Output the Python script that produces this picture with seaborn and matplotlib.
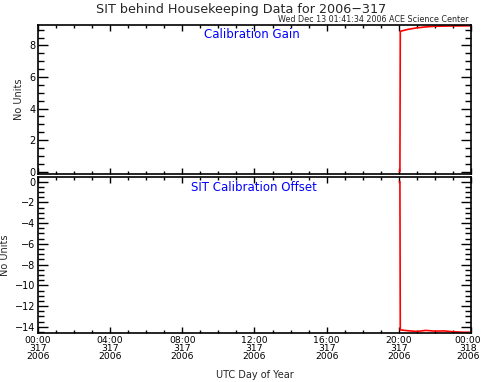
import matplotlib
matplotlib.use("Agg")
import matplotlib.pyplot as plt
import matplotlib.transforms as mtransforms
from matplotlib.ticker import MultipleLocator
import seaborn as sns
import pandas as pd

# Data (hours since 00:00 UTC day 317)
gain_hours = [20.03, 20.06, 20.08, 20.5, 21.0, 21.5, 22.0, 23.0, 24.0]
gain_values = [0.0, 0.0, 8.9, 9.02, 9.12, 9.18, 9.22, 9.24, 9.25]
offset_hours = [20.03, 20.06, 20.08, 20.5, 21.0, 21.5, 22.0, 22.5, 23.0, 23.5, 24.0]
offset_values = [0.0, 0.0, -14.3, -14.38, -14.45, -14.35, -14.42, -14.4, -14.48, -14.52, -14.55]

xtick_hours = [0, 4, 8, 12, 16, 20, 24]
xtick_labels = ["00:00\n317\n2006", "04:00\n317\n2006", "08:00\n317\n2006",
                "12:00\n317\n2006", "16:00\n317\n2006", "20:00\n317\n2006",
                "00:00\n318\n2006"]

title = "SIT behind Housekeeping Data for 2006\u2212317"
stamp = "Wed Dec 13 01:41:34 2006 ACE Science Center"
panel_titles = ["Calibration Gain", "SIT Calibration Offset"]

sns.set_style("ticks")
plt.rcParams['font.family'] = ['DejaVu Sans']
plt.rcParams['axes.unicode_minus'] = True

fig = plt.figure(figsize=(4.82, 3.82), dpi=100)
L, R = 38 / 482, 471 / 482
ax1 = fig.add_axes([L, 1 - 174 / 382, R - L, (174 - 25) / 382])
ax2 = fig.add_axes([L, 1 - 333 / 382, R - L, (333 - 177) / 382])

df1 = pd.DataFrame({"h": gain_hours, "v": gain_values})
df2 = pd.DataFrame({"h": offset_hours, "v": offset_values})
sns.lineplot(data=df1, x="h", y="v", ax=ax1, color="red", linewidth=1.2, sort=False)
sns.lineplot(data=df2, x="h", y="v", ax=ax2, color="red", linewidth=1.2, sort=False)

for ax in (ax1, ax2):
    ax.set_xlim(0, 24)
    ax.xaxis.set_major_locator(MultipleLocator(4))
    ax.xaxis.set_minor_locator(MultipleLocator(1))
    ax.yaxis.set_major_locator(MultipleLocator(2))
    ax.yaxis.set_minor_locator(MultipleLocator(0.5))
    ax.tick_params(which="both", direction="in", top=True, right=True,
                   labelsize=7, colors="black", pad=2)
    ax.tick_params(axis="y", which="major", length=7, width=1)
    ax.tick_params(axis="y", which="minor", length=4, width=1)
    ax.tick_params(axis="x", which="major", length=4, width=1)
    ax.tick_params(axis="x", which="minor", length=2, width=1)
    for s in ax.spines.values():
        s.set_linewidth(1.2)
        s.set_color("black")
    ax.set_ylabel("No Units", fontsize=7)
    ax.set_xlabel("")

ax1.yaxis.set_label_coords(-0.032, 0.5)
ax2.yaxis.set_label_coords(-0.065, 0.5)

ax1.set_ylim(-0.15, 9.3)
ax2.set_ylim(-14.6, 0.45)
ax1.set_xticks(xtick_hours)
ax1.set_xticklabels([])
ax2.set_xticks(xtick_hours)
ax2.set_xticklabels(xtick_labels, fontsize=6.7, linespacing=0.9)
last = ax2.get_xticklabels()[-1]
last.set_transform(last.get_transform() +
                   mtransforms.ScaledTranslation(-3 / 100, 0, fig.dpi_scale_trans))
ax2.set_xlabel("UTC Day of Year", fontsize=7, labelpad=6)

ax1.text(0.494, 0.935, panel_titles[0], transform=ax1.transAxes, color="blue",
         fontsize=8.5, ha="center", va="center")
ax2.text(0.498, 0.93, panel_titles[1], transform=ax2.transAxes, color="blue",
         fontsize=8.5, ha="center", va="center")

fig.text(0.5, 1 - 9 / 382, title, ha="center", va="center", fontsize=9.2)
fig.text(469 / 482, 1 - 19.5 / 382, stamp, ha="right", va="center", fontsize=5.8)

fig.savefig("out.png", dpi=100, facecolor="white")
